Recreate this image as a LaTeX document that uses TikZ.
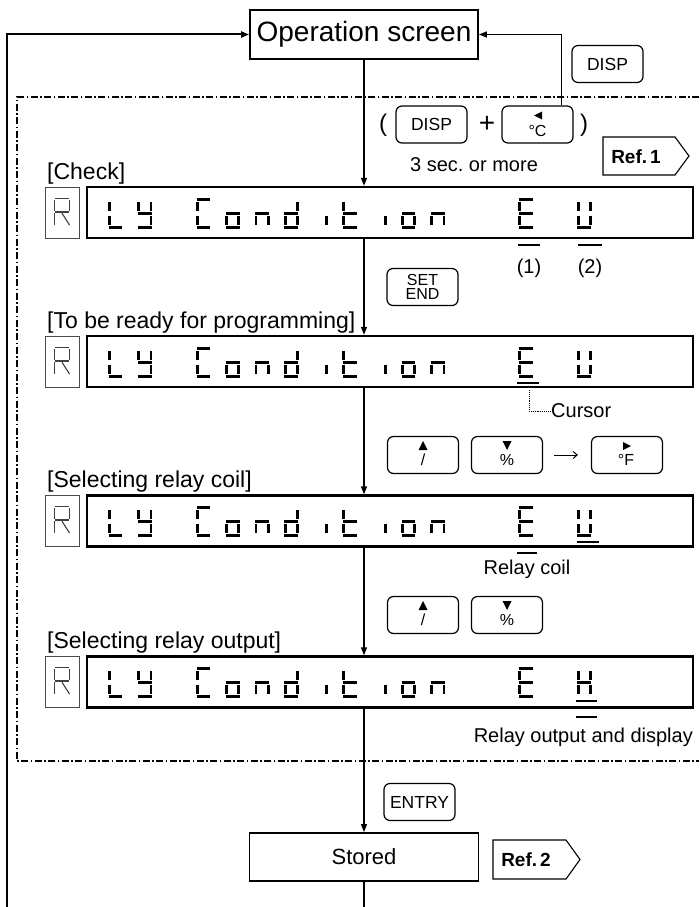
\documentclass[tikz,border=0pt]{standalone}
\usepackage{fontspec}
\setmainfont{Liberation Sans}
\usetikzlibrary{arrows.meta,calc}

\tikzset{
  arr/.style={-{Triangle[length=8pt,width=6pt]}, line width=1.4pt},
  mainline/.style={line width=1.4pt},
  keybox/.style={draw, rounded corners=6pt, line width=1.2pt, minimum width=71pt, minimum height=37pt, inner sep=0pt, font=\fontsize{17.5}{18}\selectfont},
  dispbox/.style={draw, line width=2.4pt, minimum width=606pt, minimum height=51pt, inner sep=0pt},
  rbox/.style={draw=black!70, line width=0.9pt, minimum width=34pt, minimum height=51pt, inner sep=0pt},
  segline/.style={line width=2.8pt, line cap=butt},
  hdr/.style={anchor=base west, inner sep=0pt, font=\fontsize{23}{24}\selectfont},
  annot/.style={inner sep=0pt, font=\fontsize{20}{22}\selectfont},
  keysym/.style={inner sep=0pt, font=\fontsize{16}{16}\selectfont},
  dashdotline/.style={line width=1.2pt, dash pattern=on 7pt off 2.5pt on 1.5pt off 2.5pt},
  mainbox/.style={draw, line width=1.8pt, inner sep=0pt},
  reftext/.style={inner sep=0pt, font=\bfseries\fontsize{19}{20}\selectfont},
  tagline/.style={line width=1.1pt},
  uline/.style={line width=1.6pt},
  curs/.style={densely dotted, line width=0.9pt},
}

\newcommand\segdrawa{\draw[segline] (0.6,1.4) -- (14.4,1.4);}
\newcommand\segdrawg{\draw[segline] (0.6,15.5) -- (14.4,15.5);}
\newcommand\segdrawd{\draw[segline] (0.6,29.6) -- (14.4,29.6);}
\newcommand\segdrawf{\draw[segline] (1.4,4) -- (1.4,13.3);}
\newcommand\segdrawb{\draw[segline] (13.6,4) -- (13.6,13.3);}
\newcommand\segdrawe{\draw[segline] (1.4,17.7) -- (1.4,27);}
\newcommand\segdrawc{\draw[segline] (13.6,17.7) -- (13.6,27);}
\newcommand\sevseg[3]{\begin{scope}[shift={(#1,#2)}]\foreach \s in {#3}{\csname segdraw\s\endcsname}\end{scope}}
\newcommand\dispchars[2]{%
  \sevseg{108}{#1}{f,e,d}
  \sevseg{137.3}{#1}{f,b,g,c,d}
  \sevseg{195.9}{#1}{a,f,e,d}
  \sevseg{225.2}{#1}{g,c,d,e}
  \sevseg{254.5}{#1}{g,e,c}
  \sevseg{283.8}{#1}{b,c,d,e,g}
  \sevseg{313.1}{#1}{c}
  \sevseg{342.4}{#1}{f,e,d,g}
  \sevseg{371.7}{#1}{c}
  \sevseg{401}{#1}{g,c,d,e}
  \sevseg{430.3}{#1}{g,e,c}
  \sevseg{518.2}{#1}{a,f,g,e,d}
  \sevseg{576.8}{#1}{#2}
}
\newcommand\rchar[2]{\begin{scope}[shift={(#1,#2)}, line width=1.1pt, black!75]
  \draw (1.2,0.5) -- (14.8,0.5);
  \draw (0.5,1.8) -- (0.5,12.8);
  \draw (15.5,1.8) -- (15.5,12.8);
  \draw (1.2,14) -- (14.8,14);
  \draw (0.5,15.2) -- (0.5,27);
  \draw (8,15.2) -- (15.5,27);
\end{scope}}

\begin{document}
\begin{tikzpicture}[x=1pt,y=-1pt]
\fill[white] (0,0) rectangle (699,907);
\useasboundingbox (0,0) rectangle (699,907);

% dash-dot frame
\draw[dashdotline] (699,97) -- (17,97) -- (17,761) -- (699,761);

% operation screen
\node[mainbox, minimum width=228pt, minimum height=49pt, font=\fontsize{28}{30}\selectfont] (op) at (364,34.5) {Operation screen};

% keys
\node[keybox] (kdisp) at (607.5,64) {DISP};
\node[keybox] (kdisp2) at (431.5,124.5) {DISP};
\node[keybox] (kc) at (537.5,124.5) {};
\node[keybox, align=center, font=\fontsize{16}{14.5}\selectfont] (kset) at (422.5,287) {SET\\END};
\node[keybox] (ku1) at (423,455) {};
\node[keybox] (kd1) at (507,455) {};
\node[keybox] (kf) at (627,455) {};
\node[keybox] (ku2) at (423,615) {};
\node[keybox] (kd2) at (507,615) {};
\node[keybox] (kent) at (419.5,802) {ENTRY};

% key symbols
\fill ($(kc)+(4.5,-13)$) -- ++(0,8) -- ++(-8,-4) -- cycle;
\node[keysym] (kct) at ($(kc)+(0,6)$) {°C};
\fill ($(ku1)+(-4.5,-5)$) -- ++(9,0) -- ++(-4.5,-9) -- cycle;
\node[keysym] (ku1t) at ($(ku1)+(0,5)$) {/};
\fill ($(kd1)+(-4.5,-14)$) -- ++(9,0) -- ++(-4.5,9) -- cycle;
\node[keysym] (kd1t) at ($(kd1)+(0,5)$) {\%};
\fill ($(kf)+(-4,-13)$) -- ++(0,8) -- ++(8,-4) -- cycle;
\node[keysym] (kft) at ($(kf)+(-1,5)$) {°F};
\fill ($(ku2)+(-4.5,-5)$) -- ++(9,0) -- ++(-4.5,-9) -- cycle;
\node[keysym] (ku2t) at ($(ku2)+(0,5)$) {/};
\fill ($(kd2)+(-4.5,-14)$) -- ++(9,0) -- ++(-4.5,9) -- cycle;
\node[keysym] (kd2t) at ($(kd2)+(0,5)$) {\%};
\draw[line width=1pt, -{Straight Barb[length=4pt,width=7pt]}] ([xshift=11pt]kd1.east) -- ([xshift=-13pt]kf.west);

% parentheses, plus, note
\node[inner sep=0pt, font=\fontsize{24}{24}\selectfont] (lp) at (383,125) {(};
\node[inner sep=0pt, font=\fontsize{28}{28}\selectfont] (plus) at (487,124) {+};
\node[inner sep=0pt, font=\fontsize{24}{24}\selectfont] (rp) at (584,125) {)};
\node[annot] (three) at (474,165) {3 sec.\ or more};

% Ref 1 tag
\draw[tagline] (603,137) -- (675,137) -- (689,156) -- (675,175) -- (603,175) -- cycle;
\node[reftext] (ref1) at (636,157) {Ref.\kern3pt1};

% headers
\node[hdr] (h1) at (47,179) {[Check]};
\node[hdr] (h2) at (47,328) {[To be ready for programming]};
\node[hdr] (h3) at (47,487) {[Selecting relay coil]};
\node[hdr] (h4) at (47,648) {[Selecting relay output]};

% displays
\node[dispbox] (d1) at (390,212.5) {};
\node[dispbox] (d2) at (390,361.5) {};
\node[dispbox] (d3) at (390,521) {};
\node[dispbox] (d4) at (390,682) {};
\node[rbox] (r1) at (62,212.5) {};
\node[rbox] (r2) at (62,361.5) {};
\node[rbox] (r3) at (62,521) {};
\node[rbox] (r4) at (62,682) {};
\rchar{54}{198}
\rchar{54}{347}
\rchar{54}{506}
\rchar{54}{667}
\dispchars{198}{f,b,e,c,d}
\dispchars{347}{f,b,e,c,d}
\dispchars{506}{f,b,e,c,d}
\dispchars{667}{f,b,g,e,c}

% markers display 1
\draw[uline] (518,245) -- (540,245);
\draw[uline] (578,245) -- (602,245);
\node[annot] (m1) at (529,268) {(1)};
\node[annot] (m2) at (590,268) {(2)};

% display 2 cursor
\draw[uline] (517,383) -- (539,383);
\node[annot, anchor=west] (cur) at (551,411) {Cursor};
\coordinate (cs) at (529,390);
\draw[curs] (cs) |- (cur.west);

% display 3
\draw[uline] (577,542) -- (599,542);
\draw[uline] (517,553) -- (537,553);
\node[annot] (rc) at (527,569) {Relay coil};

% display 4
\draw[uline] (576,701) -- (597,701);
\draw[uline] (576,717) -- (597,717);
\node[annot, anchor=east] (ro) at (693,737) {Relay output and display};

% stored
\node[mainbox, minimum width=229pt, minimum height=48pt, font=\fontsize{22}{24}\selectfont] (st) at (364,857) {Stored};
\draw[tagline] (493,840) -- (566,840) -- (580,859.5) -- (566,879) -- (493,879) -- cycle;
\node[reftext] (ref2) at (526,860) {Ref.\kern3pt2};

% connectors
\coordinate (bot) at (364,907);
\coordinate (lb) at (7,907);
\draw[arr] (op.south) -- (op.south |- d1.north);
\draw[arr] (op.south |- d1.south) -- (op.south |- d2.north);
\draw[arr] (op.south |- d2.south) -- (op.south |- d3.north);
\draw[arr] (op.south |- d3.south) -- (op.south |- d4.north);
\draw[arr] (op.south |- d4.south) -- (st.north);
\draw[mainline] (st.south) -- (bot);
\draw[arr, line width=2pt] (lb) |- (op.west);
\draw[arr, line width=1.2pt] ([xshift=-12pt]kc.north east) |- (op.east);
\end{tikzpicture}
\end{document}
